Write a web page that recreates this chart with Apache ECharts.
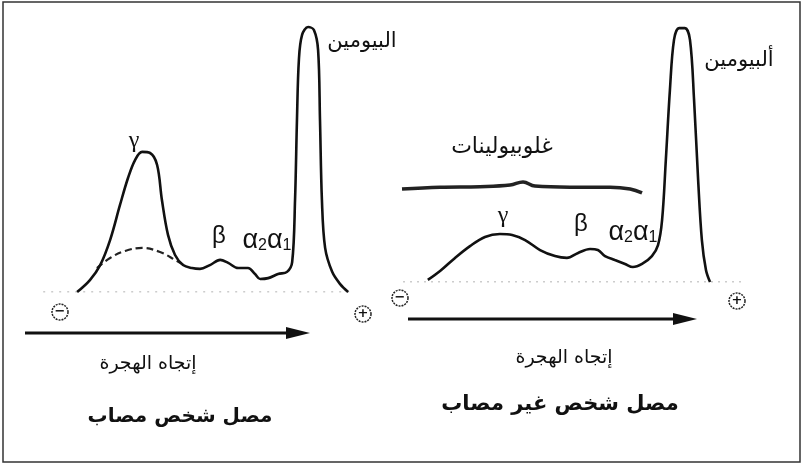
<!DOCTYPE html>
<html>
<head>
<meta charset="utf-8">
<script src="https://cdn.jsdelivr.net/npm/echarts@6/dist/echarts.min.js"></script>
<style>
html, body { margin: 0; padding: 0; background: #fff; }
#main { width: 805px; height: 467px; }
</style>
</head>
<body>
<div id="main"></div>
<script>
// مصل شخص مصاب (left) : [migration, intensity]
var sickTrace = [
    [11.6, 0], [15.6, 4.4], [18.8, 9.9], [21.9, 19.1], [25, 32], [27.5, 41.9],
    [29.7, 48.5], [31.9, 51.5], [34.4, 51.1], [36.6, 46.7], [38.1, 33.8], [40, 21],
    [42.2, 13.6], [44.7, 9.9], [47.5, 8.8], [50, 8.5], [53.1, 9.9], [56.3, 11.8],
    [58.8, 10.7], [61.9, 8.8], [65, 8.8], [67.2, 6.6], [68.8, 4.8], [71.3, 5.1],
    [74.4, 6.6], [77.2, 7.4], [78.8, 11], [79.7, 33.8], [80.3, 63.2], [80.9, 85.3],
    [81.9, 94.5], [83.8, 97.4], [85.6, 96.3], [86.9, 89], [87.5, 63.2], [88.1, 33.8],
    [89.1, 16.2], [91.3, 7.4], [93.8, 2.9], [96.3, 0]
];
var sickNormalGamma = [
    [17.8, 8.8], [21.9, 12.5], [26.6, 15.1], [31.9, 16.2], [37.5, 14.7], [42.2, 11.8], [45.3, 9.6]
];
var sickBaseline = [[-1.5, 0], [98.5, 0]];

// مصل شخص غير مصاب (right)
var healthyTrace = [
    [12.6, 0.8], [16.2, 4.2], [20.6, 9.2], [25, 13.7], [29.4, 17.2], [33.8, 18.3],
    [37.4, 17.9], [41.2, 16], [45.6, 12.2], [50, 9.9], [53.5, 9.2], [56.8, 11.1],
    [60.3, 12.6], [62.6, 12.2], [64.7, 9.9], [67.6, 8.4], [70.6, 6.9], [72.9, 5.7],
    [75.6, 6.9], [78.5, 9.9], [80.3, 14.1], [81.5, 23.7], [82.6, 46.6], [83.8, 73.3],
    [85, 92.4], [86.5, 96.9], [88.2, 96.9], [89.7, 92.4], [90.9, 69.5], [92.1, 38.9],
    [93.2, 16], [94.4, 4.6], [95.6, 0]
];
var globulinBand = [
    [5, 35.5], [16.2, 36.2], [27.9, 36.4], [36.8, 37], [40.6, 38.2], [44.1, 36.6],
    [54.4, 36.2], [66.2, 36.2], [72.1, 35.5], [75.6, 34]
];
var healthyBaseline = [[5.3, 0], [105.9, 0]];

var arabicFont = '"DejaVu Sans", "Noto Sans", sans-serif';

function txt(x, y, str, size, bold) {
    return {
        type: 'text', x: x, y: y,
        style: {
            text: str, fill: '#111', font: (bold ? 'bold ' : '') + size + 'px ' + arabicFont,
            align: 'center', verticalAlign: 'middle'
        }
    };
}
function greek(x, y, str, family, size) {
    return {
        type: 'text', x: x, y: y,
        style: { text: str, fill: '#111', font: size + 'px ' + family, align: 'center', verticalAlign: 'middle' }
    };
}
function alphas(x, y) {
    return {
        type: 'text', x: x, y: y,
        style: {
            text: '{a|α}{s|2}{a|α}{s|1}', align: 'center', verticalAlign: 'middle',
            rich: {
                a: { fontSize: 27, fontFamily: '"Liberation Sans", Arial', fill: '#111' },
                s: { fontSize: 16, fontFamily: '"Liberation Sans", Arial', fill: '#111', padding: [9, 0, 0, 0] }
            }
        }
    };
}
function arrow(x1, x2, y) {
    return {
        type: 'group', children: [
            { type: 'line', shape: { x1: x1, y1: y, x2: x2 - 18, y2: y }, style: { stroke: '#111', lineWidth: 3 } },
            { type: 'polygon', shape: { points: [[x2 - 24, y - 6], [x2, y], [x2 - 24, y + 6]] }, style: { fill: '#111' } }
        ]
    };
}
function pole(x, y, sign) {
    return {
        type: 'group', children: [
            { type: 'circle', shape: { cx: x, cy: y, r: 8 }, style: { fill: '#fff', stroke: '#222', lineWidth: 1.5, lineDash: [2, 1] } },
            { type: 'text', x: x, y: y, style: { text: sign, font: 'bold 13px "DejaVu Sans"', fill: '#111', align: 'center', verticalAlign: 'middle' } }
        ]
    };
}

var dom = document.getElementById('main');
var myChart = echarts.init(dom);
var option = {
    backgroundColor: '#fff',
    animation: false,
    grid: [
        { left: 40, top: 20, width: 320, height: 272 },
        { left: 385, top: 20, width: 374, height: 262 }
    ],
    xAxis: [
        { gridIndex: 0, type: 'value', min: 0, max: 100, show: false },
        { gridIndex: 1, type: 'value', min: 0, max: 110, show: false }
    ],
    yAxis: [
        { gridIndex: 0, type: 'value', min: 0, max: 100, show: false },
        { gridIndex: 1, type: 'value', min: 0, max: 100, show: false }
    ],
    series: [
        { type: 'line', xAxisIndex: 0, yAxisIndex: 0, data: sickBaseline, symbol: 'none', silent: true,
          lineStyle: { color: '#999', width: 1, type: [2, 6] } },
        { type: 'line', xAxisIndex: 0, yAxisIndex: 0, data: sickNormalGamma, symbol: 'none', smooth: 0.4,
          lineStyle: { color: '#222', width: 2.2, type: [7, 4] } },
        { type: 'line', xAxisIndex: 0, yAxisIndex: 0, data: sickTrace, symbol: 'none', smooth: 0.35,
          lineStyle: { color: '#111', width: 2.6 } },
        { type: 'line', xAxisIndex: 1, yAxisIndex: 1, data: healthyBaseline, symbol: 'none', silent: true,
          lineStyle: { color: '#999', width: 1, type: [2, 5] } },
        { type: 'line', xAxisIndex: 1, yAxisIndex: 1, data: globulinBand, symbol: 'none', smooth: 0.4,
          lineStyle: { color: '#222', width: 3.5 } },
        { type: 'line', xAxisIndex: 1, yAxisIndex: 1, data: healthyTrace, symbol: 'none', smooth: 0.35,
          lineStyle: { color: '#111', width: 2.6 } }
    ],
    graphic: [
        { type: 'rect', shape: { x: 3, y: 2, width: 797, height: 460 }, style: { fill: 'none', stroke: '#333', lineWidth: 1.5 } },
        txt(362, 42, 'البيومين', 21, false),
        txt(739, 61, 'ألبيومين', 21, false),
        txt(502, 147, 'غلوبيولينات', 22, false),
        greek(134, 141, 'γ', '"Liberation Serif", serif', 24),
        greek(219, 236, 'β', '"Liberation Sans", Arial', 24),
        alphas(267, 241),
        greek(503, 216, 'γ', '"Liberation Serif", serif', 24),
        greek(581, 224, 'β', '"Liberation Sans", Arial', 24),
        alphas(633, 233),
        pole(60, 312, '−'),
        pole(363, 314, '+'),
        pole(400, 298, '−'),
        pole(737, 301, '+'),
        arrow(25, 310, 333),
        arrow(408, 697, 319),
        txt(148, 364, 'إتجاه الهجرة', 19, false),
        txt(180, 417, 'مصل شخص مصاب', 20, true),
        txt(560, 405, 'مصل شخص غير مصاب', 21, true),
        txt(564, 358, 'إتجاه الهجرة', 19, false)
    ]
};
if (option && typeof option === "object") {
    myChart.setOption(option, true);
}
</script>
</body>
</html>
